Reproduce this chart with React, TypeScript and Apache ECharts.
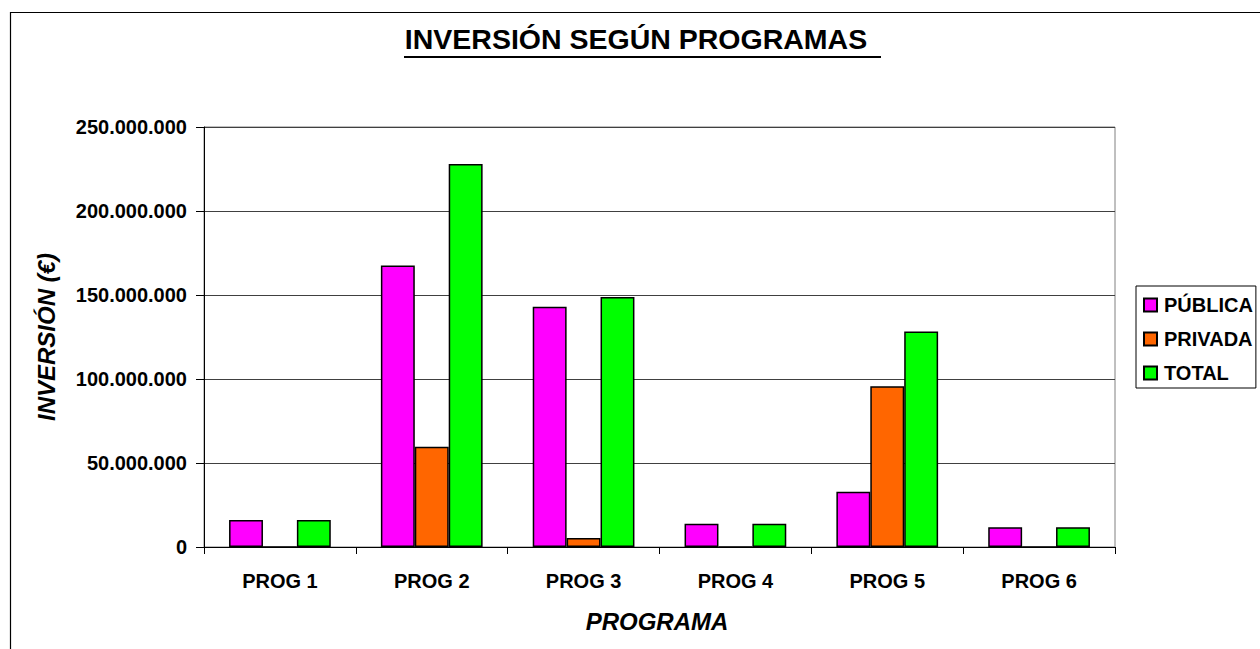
import React, { useEffect, useRef } from "react";
import * as echarts from "echarts";

const categories = ["PROG 1", "PROG 2", "PROG 3", "PROG 4", "PROG 5", "PROG 6"];
const publica = [16000000, 167500000, 143000000, 13900000, 32900000, 11700000];
const privada = [0, 59700000, 5400000, 0, 95700000, 0];
const total = [16000000, 228000000, 148800000, 13900000, 128300000, 11700000];
const seriesNames = ["PÚBLICA", "PRIVADA", "TOTAL"];
const yMax = 250000000;
const yStep = 50000000;

const FONT = "'Liberation Sans', Arial, sans-serif";

function fmt(v: number): string {
  return String(Math.round(v)).replace(/\B(?=(\d{3})+(?!\d))/g, ".");
}

export default function App() {
  const ref = useRef<HTMLDivElement>(null);
  useEffect(() => {
    if (!ref.current) return;
    const chart = echarts.init(ref.current, null, { renderer: "svg" });
    const barStyle = (color: string) => ({
      color,
      borderColor: "#000",
      borderWidth: 1.5,
    });
    chart.setOption({
      animation: false,
      backgroundColor: "#fff",
      textStyle: { fontFamily: FONT },
      title: {
        text: "INVERSIÓN SEGÚN PROGRAMAS",
        left: 636,
        textAlign: "center",
        top: 24,
        padding: 0,
        textStyle: { fontFamily: FONT, fontSize: 28.5, fontWeight: "bold", color: "#000" },
      },
      legend: {
        orient: "vertical",
        left: 1136,
        top: 286,
        padding: [9, 3, 5, 7],
        borderColor: "#000",
        borderWidth: 1,
        itemWidth: 13,
        itemHeight: 13,
        itemGap: 14,
        icon: "rect",
        data: seriesNames,
        textStyle: { fontFamily: FONT, fontSize: 20, fontWeight: "bold", color: "#000", lineHeight: 20, padding: [0, 0, 0, 2] },
      },
      grid: {
        left: 204,
        right: 145,
        top: 127,
        bottom: 102,
        show: true,
        borderColor: "#808080",
        borderWidth: 1,
        backgroundColor: "#fff",
      },
      xAxis: {
        type: "category",
        data: categories,
        axisLine: { lineStyle: { color: "#000", width: 1 } },
        axisTick: { show: true, length: 7, lineStyle: { color: "#000" } },
        axisLabel: { fontFamily: FONT, fontSize: 20, fontWeight: "bold", color: "#000", margin: 24 },
      },
      yAxis: {
        type: "value",
        min: 0,
        max: yMax,
        interval: yStep,
        name: "INVERSIÓN (€)",
        nameLocation: "middle",
        nameRotate: 90,
        nameGap: 146,
        nameTextStyle: { fontFamily: FONT, fontSize: 24, fontWeight: "bold", fontStyle: "italic", color: "#000" },
        axisLine: { show: true, lineStyle: { color: "#000", width: 1 } },
        axisTick: { show: true, length: 8, lineStyle: { color: "#000" } },
        splitLine: { show: true, lineStyle: { color: "#404040", width: 1 } },
        axisLabel: {
          fontFamily: FONT,
          fontSize: 20,
          fontWeight: "bold",
          color: "#000",
          margin: 17,
          formatter: (v: number) => fmt(v),
        },
      },
      graphic: [
        {
          type: "rect",
          silent: true,
          shape: { x: 10.5, y: 12.5, width: 1400, height: 800 },
          style: { fill: "none", stroke: "#000", lineWidth: 1.2 },
          z: 100,
        },
        {
          type: "line",
          silent: true,
          shape: { x1: 404, y1: 57, x2: 881, y2: 57 },
          style: { stroke: "#000", lineWidth: 2 },
        },
        {
          type: "text",
          silent: true,
          x: 657,
          y: 621,
          style: {
            text: "PROGRAMA",
            fontFamily: FONT,
            fontSize: 24,
            fontWeight: "bold",
            fontStyle: "italic",
            fill: "#000",
            textAlign: "center",
            textVerticalAlign: "middle",
          },
        },
      ],
      series: [
        {
          name: seriesNames[0],
          type: "bar",
          data: publica,
          barGap: "0%",
          barCategoryGap: "33%",
          itemStyle: barStyle("#FF00FF"),
        },
        {
          name: seriesNames[1],
          type: "bar",
          data: privada,
          barGap: "0%",
          barCategoryGap: "33%",
          itemStyle: barStyle("#FF6600"),
        },
        {
          name: seriesNames[2],
          type: "bar",
          data: total,
          barGap: "0%",
          barCategoryGap: "33%",
          itemStyle: barStyle("#00FF00"),
        },
      ],
    });
    return () => chart.dispose();
  }, []);
  return (
    <div
      ref={ref}
      style={{ position: "fixed", left: 0, top: 0, width: 1260, height: 649, background: "#fff" }}
    />
  );
}
